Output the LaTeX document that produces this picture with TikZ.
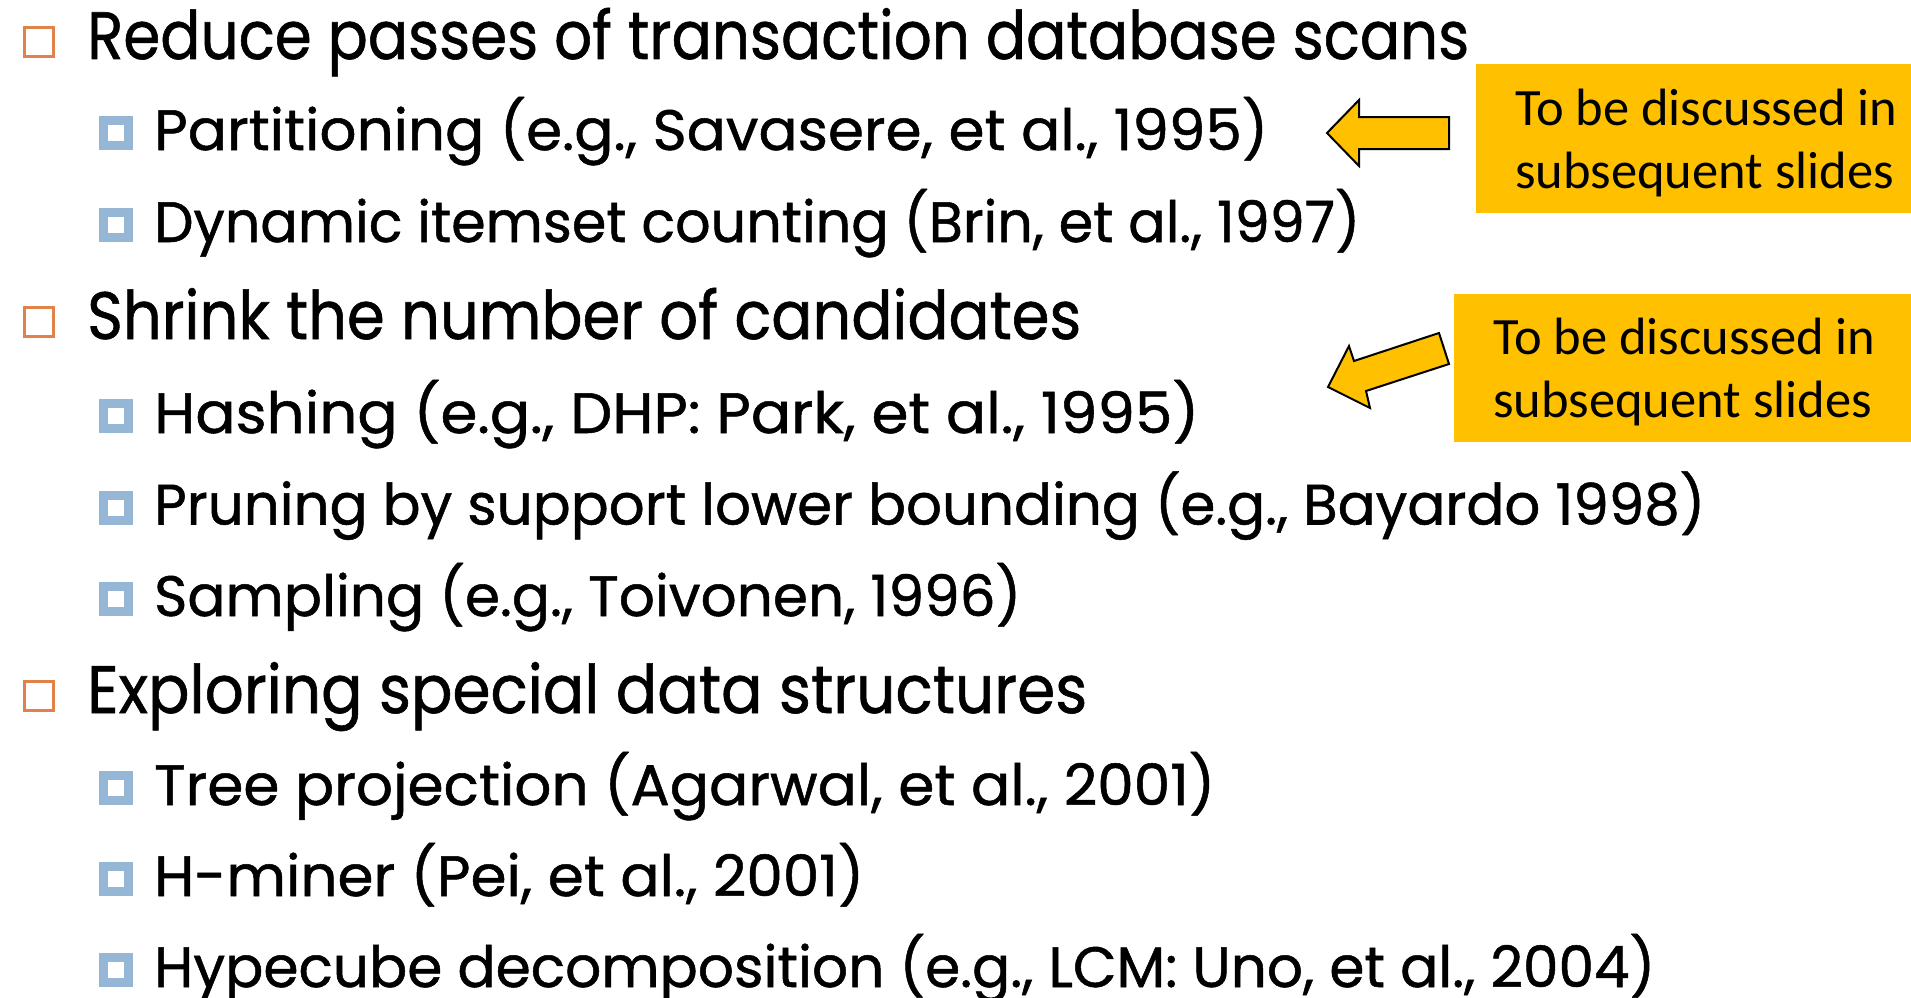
\documentclass[tikz,border=0pt]{standalone}
\usepackage{graphicx}
\usepackage{fontspec}
\setmainfont{Poppins}[FakeBold=0.9]
\newfontfamily\calloutfont{Carlito}

\definecolor{bulletorange}{RGB}{224,131,75}
\definecolor{bulletblue}{RGB}{149,182,212}
\definecolor{calloutgold}{RGB}{255,192,0}

% stretch or squeeze a line horizontally to a given width, height kept
\newcommand{\fitw}[2]{\resizebox{#1}{\height}{#2}}

\begin{document}
\begin{tikzpicture}[x=1pt,y=-1pt,
  lvlone/.style={anchor=base west, inner sep=0pt, font=\fontsize{67}{80}\selectfont},
  lvltwo/.style={anchor=base west, inner sep=0pt, font=\fontsize{57}{68}\selectfont},
  obullet/.style={draw=bulletorange, line width=3.3pt, minimum size=28.7pt, inner sep=0pt},
  bbullet/.style={draw=bulletblue, line width=9pt, minimum size=25pt, inner sep=0pt},
  callout/.style={fill=calloutgold, inner sep=0pt, anchor=north west},
  callouttext/.style={anchor=base west, inner sep=0pt, font=\calloutfont\fontsize{52.5}{63}\selectfont},
  blockarrow/.style={fill=calloutgold, draw=black, line width=2pt, line join=miter}]

\useasboundingbox[fill=white] (0,0) rectangle (1911,998);

% ---- first group ----
\node[obullet] (o1) at (39,42) {};
\node[lvlone] (l1) at (87,59) {\fitw{1382pt}{Reduce passes of transaction database scans}};
\node[bbullet] (b1) at (116,133) {};
\node[lvltwo] (l2) at (154,150) {\fitw{1114pt}{Partitioning (e.g., Savasere, et al., 1995)}};
\node[bbullet] (b2) at (116,225) {};
\node[lvltwo] (l3) at (154,242) {\fitw{1206pt}{Dynamic itemset counting (Brin, et al., 1997)}};

% ---- second group ----
\node[obullet] (o2) at (39,322) {};
\node[lvlone] (l4) at (87,339) {\fitw{994pt}{Shrink the number of candidates}};
\node[bbullet] (b3) at (116,416) {};
\node[lvltwo] (l5) at (154,433) {\fitw{1045pt}{Hashing (e.g., DHP: Park, et al., 1995)}};
\node[bbullet] (b4) at (116,507.5) {};
\node[lvltwo] (l6) at (154,524.5) {\fitw{1551pt}{Pruning by support lower bounding (e.g., Bayardo 1998)}};
\node[bbullet] (b5) at (116,599) {};
\node[lvltwo] (l7) at (154,616) {\fitw{867pt}{Sampling (e.g., Toivonen, 1996)}};

% ---- third group ----
\node[obullet] (o3) at (39,696) {};
\node[lvlone] (l8) at (87,713) {\fitw{1000pt}{Exploring special data structures}};
\node[bbullet] (b6) at (116,788) {};
\node[lvltwo] (l9) at (154,805) {\fitw{1061pt}{Tree projection (Agarwal, et al., 2001)}};
\node[bbullet] (b7) at (116,879) {};
\node[lvltwo] (l10) at (154,896) {\fitw{710pt}{H-miner (Pei, et al., 2001)}};
\node[bbullet] (b8) at (116,970) {};
\node[lvltwo] (l11) at (154,987) {\fitw{1501pt}{Hypecube decomposition (e.g., LCM: Uno, et al., 2004)}};

% ---- callout notes ----
\node[callout, minimum width=435pt, minimum height=149pt] (n1) at (1476,64) {};
\node[callouttext] (n1a) at (1515,125) {To be discussed in};
\node[callouttext] (n1b) at (1515,188) {subsequent slides};

\node[callout, minimum width=457pt, minimum height=148pt] (n2) at (1454,294) {};
\node[callouttext] (n2a) at (1493,354) {To be discussed in};
\node[callouttext] (n2b) at (1493,417) {subsequent slides};

% ---- block arrows pointing back at the list ----
\draw[blockarrow] (1327,133) -- (1359,100) -- (1359,117) -- (1449,117)
  -- (1449,149) -- (1359,149) -- (1359,166) -- cycle;
\draw[blockarrow] (1328,387) -- (1349,346) -- (1354,361) -- (1439,333)
  -- (1449,364) -- (1366,391) -- (1370,408) -- cycle;
\end{tikzpicture}
\end{document}
